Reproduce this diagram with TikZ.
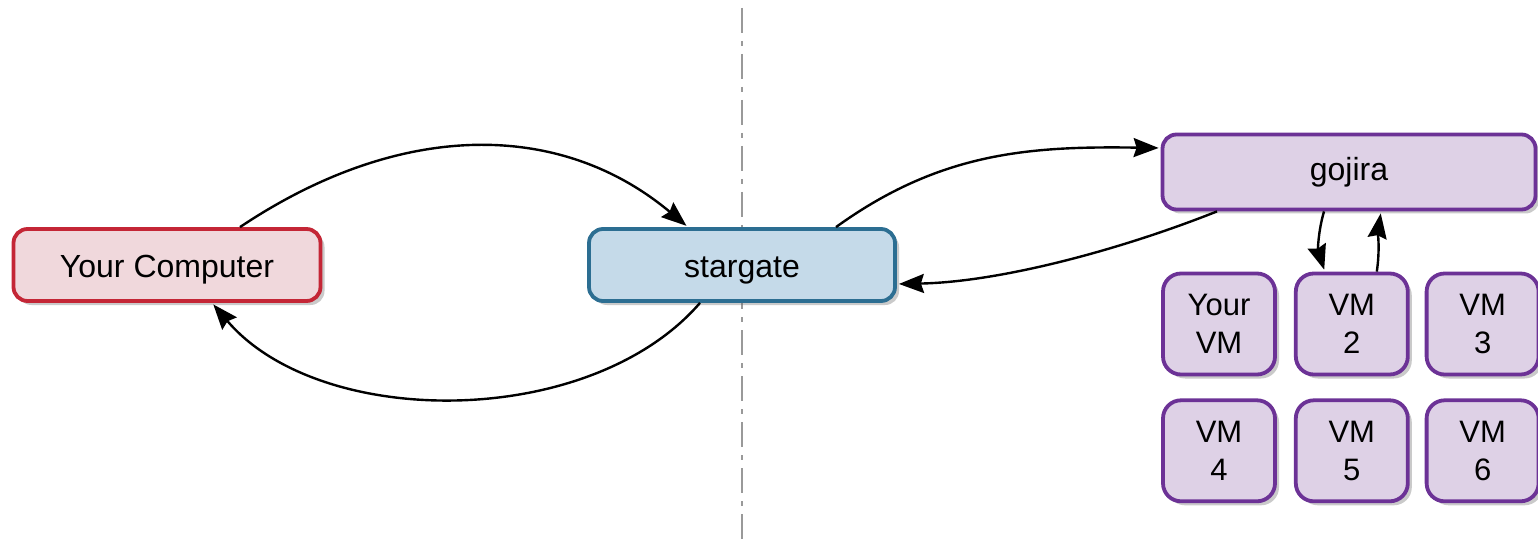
\documentclass[tikz,border=0pt]{standalone}
\usepackage{fontspec}
\setmainfont{Liberation Sans}
\usetikzlibrary{positioning,arrows.meta,shadows}

\definecolor{pcred}{RGB}{196,38,54}
\definecolor{pcredfill}{RGB}{240,216,220}
\definecolor{sgblue}{RGB}{44,110,146}
\definecolor{sgbluefill}{RGB}{197,218,233}
\definecolor{vmpurple}{RGB}{108,50,150}
\definecolor{vmpurplefill}{RGB}{222,209,230}

\begin{document}
\begin{tikzpicture}[x=1pt, y=-1pt, line width=2.4pt]
        \tikzstyle{host} = [rectangle, draw, line width=3.8pt, rounded corners=14pt, text centered, font=\fontsize{32}{38}\selectfont, drop shadow={shadow xshift=4pt, shadow yshift=-4pt, opacity=0.35, fill=black!60}]
        \tikzstyle{lowtext} = [text height=27pt, text depth=3pt]
        \tikzstyle{vm} = [host, rounded corners=18pt, draw=vmpurple, fill=vmpurplefill, minimum width=112pt, minimum height=101pt, text width=100pt, font=\fontsize{31}{38}\selectfont]
        \tikzstyle{link} = [-{Stealth[length=25pt,width=19pt,inset=3pt]}, shorten >=2pt]
        \useasboundingbox (0,0) rectangle (1538,545);
        % divider between the two sides
        \draw[gray!80, line width=2.2pt, dash pattern=on 25pt off 8pt on 5pt off 8pt] (742,8) -- (742,545);
        \node[host, lowtext, draw=pcred, fill=pcredfill, minimum width=307pt, minimum height=72pt] (computer) at (167,265) {Your Computer};
        \node[host, lowtext, draw=sgblue, fill=sgbluefill, minimum width=306pt, minimum height=72pt] (stargate) at (742,265) {stargate};
        \node[host, draw=vmpurple, fill=vmpurplefill, minimum width=373pt, minimum height=75pt] (gojira) at (1349,172) {gojira};
        \node[vm] (yourvm) at (1219,324) {Your\\VM};
        \node[vm, right=17pt of yourvm] (vm2) {VM\\2};
        \node[vm, right=15pt of vm2] (vm3) {VM\\3};
        \node[vm, below=22pt of yourvm] (vm4) {VM\\4};
        \node[vm, right=17pt of vm4] (vm5) {VM\\5};
        \node[vm, right=15pt of vm5] (vm6) {VM\\6};
        \draw[link] ([xshift=73pt]computer.north) .. controls (400,120) and (560,120) .. ([xshift=-54pt]stargate.north);
        \draw[link] ([xshift=-42pt]stargate.south) .. controls (590,430) and (320,430) .. ([xshift=45pt]computer.south);
        \draw[link] ([xshift=94pt]stargate.north) .. controls (940,152) and (1030,146) .. ([yshift=24pt]gojira.west);
        \draw[link] ([xshift=-132pt]gojira.south) .. controls (1120,250) and (1000,282) .. ([yshift=-19pt]stargate.east);
        \draw[link] ([xshift=-25pt]gojira.south) .. controls (1318,232) and (1318,250) .. ([xshift=-27pt]vm2.north);
        \draw[link] ([xshift=25pt]vm2.north) .. controls (1380,250) and (1378,232) .. ([xshift=32pt]gojira.south);
    \end{tikzpicture}
\end{document}
